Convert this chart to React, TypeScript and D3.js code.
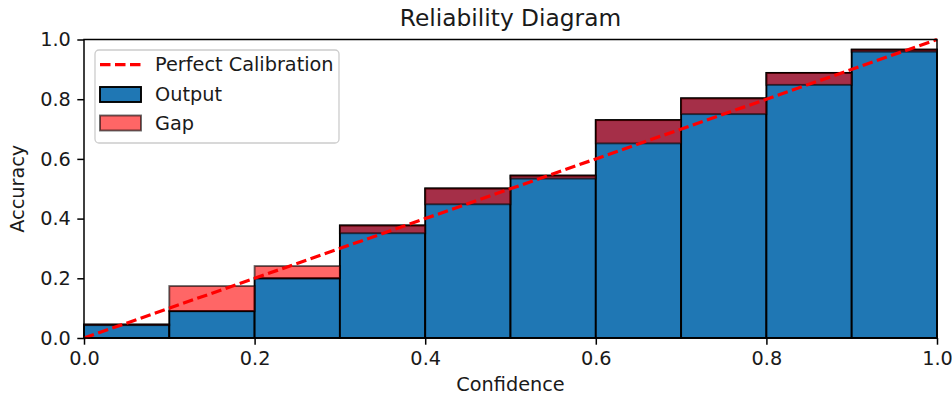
import React, { useEffect, useRef } from 'react';
import * as d3 from 'd3';

// bin lower edges, accuracy per bin (Output) and mean confidence per bin (Gap top)
const binEdges = [0.0, 0.1, 0.2, 0.3, 0.4, 0.5, 0.6, 0.7, 0.8, 0.9];
const accuracy = [0.045, 0.09, 0.2, 0.377, 0.501, 0.544, 0.73, 0.803, 0.888, 0.966];
const confidence = [0.043, 0.174, 0.241, 0.351, 0.448, 0.534, 0.652, 0.75, 0.848, 0.959];
const tickValues = [0, 0.2, 0.4, 0.6, 0.8, 1.0];
const legendLabels = ['Perfect Calibration', 'Output', 'Gap'];

export default function App() {
  const ref = useRef<SVGSVGElement>(null);

  useEffect(() => {
    document.body.style.margin = '0';
    document.body.style.overflow = 'hidden';
    const w = 952, h = 396;
    const m = { left: 84, right: 15, top: 39.5, bottom: 58 };
    const font = 'DejaVu Sans, sans-serif';
    const fs = 19.3;
    const svg = d3.select(ref.current);
    svg.selectAll('*').remove();

    const x = d3.scaleLinear().domain([0, 1]).range([m.left, w - m.right]);
    const y = d3.scaleLinear().domain([0, 1]).range([h - m.bottom, m.top]);
    const bw = x(0.1) - x(0);

    const g = svg.append('g');

    // output bars
    g.selectAll('rect.out')
      .data(binEdges)
      .join('rect')
      .attr('class', 'out')
      .attr('x', d => x(d))
      .attr('width', bw)
      .attr('y', (d, i) => y(accuracy[i]))
      .attr('height', (d, i) => y(0) - y(accuracy[i]))
      .attr('fill', '#1f77b4')
      .attr('stroke', '#000')
      .attr('stroke-width', 1.9);

    // gap bars
    g.selectAll('rect.gap')
      .data(binEdges)
      .join('rect')
      .attr('class', 'gap')
      .attr('x', d => x(d))
      .attr('width', bw)
      .attr('y', (d, i) => y(Math.max(accuracy[i], confidence[i])))
      .attr('height', (d, i) => Math.abs(y(accuracy[i]) - y(confidence[i])))
      .attr('fill', 'red')
      .attr('fill-opacity', 0.6)
      .attr('stroke', '#000')
      .attr('stroke-opacity', 0.6)
      .attr('stroke-width', 1.9);

    // perfect calibration line
    g.append('path')
      .datum([0, 1])
      .attr('d', d3.line<number>().x(d => x(d)).y(d => y(d)))
      .attr('stroke', 'red')
      .attr('stroke-width', 3.2)
      .attr('stroke-dasharray', '10.5,4.5')
      .attr('fill', 'none');

    // axes
    const xAxis = svg.append('g')
      .attr('transform', `translate(0,${y(0)})`)
      .call(d3.axisBottom(x).tickValues(tickValues).tickFormat(d3.format('.1f')).tickSizeOuter(0).tickSize(6.7).tickPadding(6.5));
    const yAxis = svg.append('g')
      .attr('transform', `translate(${x(0)},0)`)
      .call(d3.axisLeft(y).tickValues(tickValues).tickFormat(d3.format('.1f')).tickSizeOuter(0).tickSize(6.7).tickPadding(6.5));
    [xAxis, yAxis].forEach(a => {
      a.select('.domain').remove();
      a.selectAll('line').attr('stroke', '#000').attr('stroke-width', 1.5);
      a.selectAll('text').attr('font-family', font).attr('font-size', fs).attr('fill', '#1a1a1a');
    });

    // spines
    svg.append('rect')
      .attr('x', x(0)).attr('y', y(1))
      .attr('width', x(1) - x(0)).attr('height', y(0) - y(1))
      .attr('fill', 'none').attr('stroke', '#000').attr('stroke-width', 1.5);

    // titles
    svg.append('text')
      .text('Reliability Diagram')
      .attr('x', (x(0) + x(1)) / 2).attr('y', 26)
      .attr('text-anchor', 'middle')
      .attr('font-family', font).attr('font-size', 23.3).attr('fill', '#1a1a1a');
    svg.append('text')
      .text('Confidence')
      .attr('x', (x(0) + x(1)) / 2).attr('y', 391)
      .attr('text-anchor', 'middle')
      .attr('font-family', font).attr('font-size', fs).attr('fill', '#1a1a1a');
    svg.append('text')
      .text('Accuracy')
      .attr('transform', `translate(24,${(y(0) + y(1)) / 2}) rotate(-90)`)
      .attr('text-anchor', 'middle')
      .attr('font-family', font).attr('font-size', fs).attr('fill', '#1a1a1a');

    // legend
    const lg = svg.append('g').attr('transform', 'translate(95,50)');
    lg.append('rect')
      .attr('width', 244).attr('height', 93).attr('rx', 4)
      .attr('fill', '#fff').attr('fill-opacity', 0.8)
      .attr('stroke', '#ccc').attr('stroke-width', 1.3);
    const rowY = [14.7, 44.5, 73];
    lg.append('line')
      .attr('x1', 5).attr('x2', 46).attr('y1', rowY[0]).attr('y2', rowY[0])
      .attr('stroke', 'red').attr('stroke-width', 3.2).attr('stroke-dasharray', '10.5,4.5');
    lg.append('rect')
      .attr('x', 5).attr('y', rowY[1] - 7.5).attr('width', 41).attr('height', 15)
      .attr('fill', '#1f77b4').attr('stroke', '#000').attr('stroke-width', 1.9);
    lg.append('rect')
      .attr('x', 5).attr('y', rowY[2] - 7.5).attr('width', 41).attr('height', 15)
      .attr('fill', 'red').attr('fill-opacity', 0.6)
      .attr('stroke', '#000').attr('stroke-opacity', 0.6).attr('stroke-width', 1.9);
    lg.selectAll('text.lab')
      .data(legendLabels)
      .join('text')
      .attr('class', 'lab')
      .text(d => d)
      .attr('x', 60)
      .attr('y', (d, i) => rowY[i])
      .attr('dy', '0.35em')
      .attr('font-family', font).attr('font-size', fs).attr('fill', '#1a1a1a');
  }, []);

  return <svg ref={ref} width={952} height={396} style={{ display: 'block', background: '#fff' }} />;
}
